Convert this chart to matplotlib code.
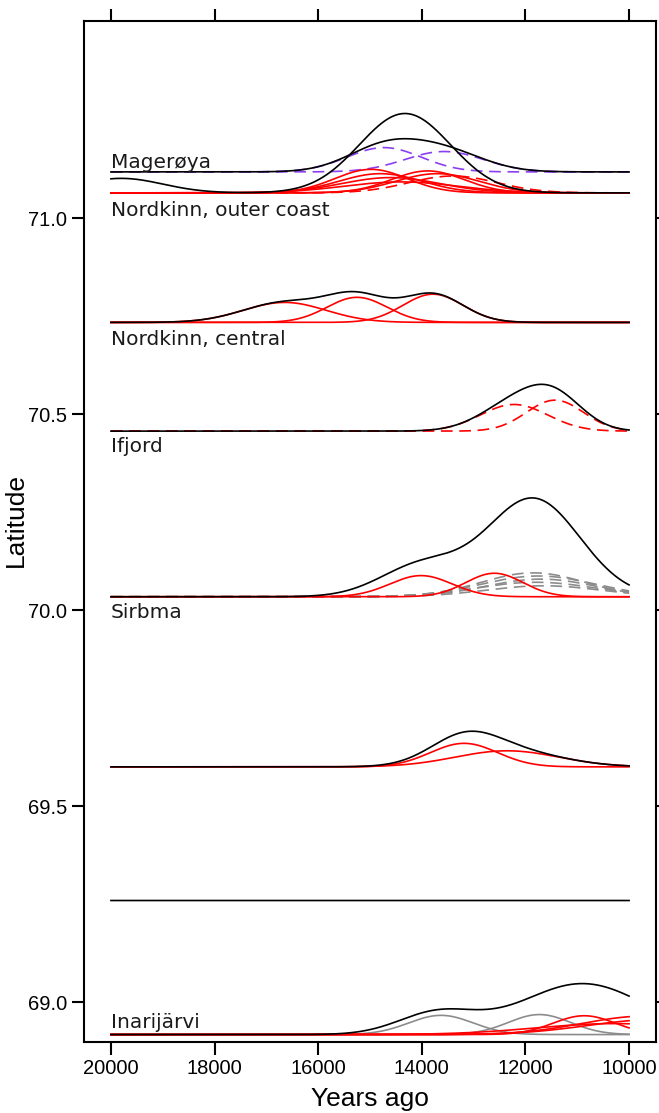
import numpy as np
import matplotlib
matplotlib.use("Agg")
import matplotlib.pyplot as plt

# ---------------- data ----------------
site_names = ["Magerøya", "Nordkinn, outer coast", "Nordkinn, central", "Ifjord", "Sirbma", "", "", "Inarijärvi"]
site_base = [71.118, 71.0645, 70.734, 70.4566, 70.034, 69.600, 69.259, 68.917]

# Magerøya (purple dashed components; black = sum)
mag_center = [14730, 13570]
mag_height = [0.062, 0.052]
mag_sigma = [720, 760]

# Nordkinn outer coast: red solid components
nko_center = [14980, 14800, 14600, 14400, 13886, 13700]
nko_height = [0.060, 0.049, 0.039, 0.028, 0.056, 0.049]
nko_sigma = [700, 800, 950, 1100, 700, 800]
# red dashed component
nko_dash_center = [13400]
nko_dash_height = [0.043]
nko_dash_sigma = [850]
# black summary curve
nko_sum_center = [19800, 14326]
nko_sum_height = [0.037, 0.2025]
nko_sum_sigma = [800, 880]

# Nordkinn central (red components; black = sum)
nkc_center = [16647, 15250, 13784]
nkc_height = [0.051, 0.064, 0.072]
nkc_sigma = [800, 580, 580]

# Ifjord (red dashed components; black = sum)
ifj_center = [12220, 11430]
ifj_height = [0.068, 0.079]
ifj_sigma = [650, 550]

# Sirbma: red solid, gray dashed, black summary
sir_red_center = [14015, 12600]
sir_red_height = [0.054, 0.060]
sir_red_sigma = [600, 550]
sir_gray_center = [11850, 11750, 11700, 11800, 11650]
sir_gray_height = [0.061, 0.053, 0.045, 0.037, 0.028]
sir_gray_sigma = [1000, 1100, 1050, 1150, 1100]
sir_sum_center = [14000, 11850]
sir_sum_height = [0.08, 0.25]
sir_sum_sigma = [800, 900]

# unnamed site at 69.6 (red components; black = sum)
u1_center = [13185, 12355]
u1_height = [0.060, 0.041]
u1_sigma = [650, 1000]

# Inarijärvi: gray solid, red solid, black summary
ina_gray_center = [13630, 11730]
ina_gray_height = [0.049, 0.051]
ina_gray_sigma = [620, 600]
ina_red_center = [10865, 9700, 9500, 10300]
ina_red_height = [0.048, 0.047, 0.038, 0.028]
ina_red_sigma = [600, 1200, 1300, 1500]
ina_sum_center = [13700, 10900]
ina_sum_height = [0.055, 0.13]
ina_sum_sigma = [750, 1200]

years = np.linspace(20000, 10000, 1201)

xticks = [20000, 18000, 16000, 14000, 12000, 10000]
yticks = [69.0, 69.5, 70.0, 70.5, 71.0]
ytick_labels = ["69.0", "69.5", "70.0", "70.5", "71.0"]


def bump(c, h, s):
    return h * np.exp(-0.5 * ((years - c) / s) ** 2)


def comps(centers, heights, sigmas):
    return [bump(c, h, s) for c, h, s in zip(centers, heights, sigmas)]


# ---------------- figure ----------------
fig = plt.figure(figsize=(6.59, 11.13), dpi=100)
ax = fig.add_axes([84 / 659, 1 - 1042 / 1113, (656 - 84) / 659, (1042 - 21) / 1113])

RED = "#ff0000"
PURPLE = "#8a3ff0"
GRAY = "#8c8c8c"
LW = 1.2
DASH = (0, (7, 4))

# Magerøya
b = site_base[0]
mc = comps(mag_center, mag_height, mag_sigma)
for y in mc:
    ax.plot(years, b + y, color=PURPLE, lw=LW, ls=DASH)
ax.plot(years, b + np.sum(mc, axis=0), color="black", lw=LW)

# Nordkinn outer coast
b = site_base[1]
for y in comps(nko_center, nko_height, nko_sigma):
    ax.plot(years, b + y, color=RED, lw=LW)
for y in comps(nko_dash_center, nko_dash_height, nko_dash_sigma):
    ax.plot(years, b + y, color=RED, lw=LW, ls=DASH)
ax.plot(years, b + np.sum(comps(nko_sum_center, nko_sum_height, nko_sum_sigma), axis=0), color="black", lw=LW)

# Nordkinn central
b = site_base[2]
nc = comps(nkc_center, nkc_height, nkc_sigma)
for y in nc:
    ax.plot(years, b + y, color=RED, lw=LW)
ax.plot(years, b + np.sum(nc, axis=0), color="black", lw=LW)

# Ifjord
b = site_base[3]
ic = comps(ifj_center, ifj_height, ifj_sigma)
for y in ic:
    ax.plot(years, b + y, color=RED, lw=LW, ls=DASH)
ax.plot(years, b + np.sum(ic, axis=0), color="black", lw=LW)

# Sirbma
b = site_base[4]
for y in comps(sir_gray_center, sir_gray_height, sir_gray_sigma):
    ax.plot(years, b + y, color=GRAY, lw=LW, ls=DASH)
for y in comps(sir_red_center, sir_red_height, sir_red_sigma):
    ax.plot(years, b + y, color=RED, lw=LW)
ax.plot(years, b + np.sum(comps(sir_sum_center, sir_sum_height, sir_sum_sigma), axis=0), color="black", lw=LW)

# unnamed 69.6
b = site_base[5]
uc = comps(u1_center, u1_height, u1_sigma)
for y in uc:
    ax.plot(years, b + y, color=RED, lw=LW)
ax.plot(years, b + np.sum(uc, axis=0), color="black", lw=LW)

# flat black line
b = site_base[6]
ax.plot(years, b + 0 * years, color="black", lw=LW)

# Inarijärvi
b = site_base[7]
for y in comps(ina_gray_center, ina_gray_height, ina_gray_sigma):
    ax.plot(years, b + y, color=GRAY, lw=LW)
for y in comps(ina_red_center, ina_red_height, ina_red_sigma):
    ax.plot(years, b + y, color=RED, lw=LW)
ax.plot(years, b + np.sum(comps(ina_sum_center, ina_sum_height, ina_sum_sigma), axis=0), color="black", lw=LW)

# site labels (pixel offsets relative to each baseline)
label_offsets = {0: 4, 1: -23, 2: -23, 3: -21, 4: -21, 7: 7}
for i, name in enumerate(site_names):
    if not name:
        continue
    ax.annotate(name, xy=(20000, site_base[i]), xytext=(0, label_offsets[i]),
                textcoords="offset pixels", ha="left", va="baseline",
                fontsize=14.5, family="DejaVu Sans", color="#1a1a1a")

ax.set_xlim(20520, 9480)
ax.set_ylim(68.898, 71.503)
ax.set_xticks(xticks)
ax.set_xticklabels([str(t) for t in xticks], family="Liberation Sans", fontsize=14.5)
ax.set_yticks(yticks)
ax.set_yticklabels(ytick_labels, family="Liberation Sans", fontsize=14.5)
ax.tick_params(axis="both", direction="out", length=9, width=1.5, pad=3,
               top=True, right=True, labeltop=False, labelright=False)
for sp in ax.spines.values():
    sp.set_linewidth(1.5)
ax.set_xlabel("Years ago", family="Liberation Sans", fontsize=19, labelpad=7)
ax.set_ylabel("Latitude", family="Liberation Sans", fontsize=19)
ax.yaxis.set_label_coords(-0.098, 0.511)

fig.savefig("out.png", dpi=100)
